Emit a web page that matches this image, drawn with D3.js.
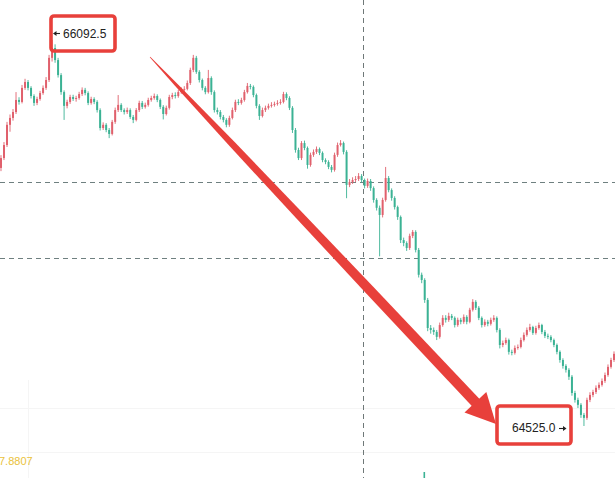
<!DOCTYPE html>
<html>
<head>
<meta charset="utf-8">
<style>
  html, body { margin: 0; padding: 0; background: #fff; }
  svg { display: block; }
  .lbl { font-family: "Liberation Sans", Arial, sans-serif; font-size: 12px; fill: #222; }
</style>
</head>
<body>
<script src="https://cdnjs.cloudflare.com/ajax/libs/d3/7.8.5/d3.min.js"></script>
<script>
var width = 615,
    height = 478;

// candle closes (one candle every ~3px)
var closes = [
  65613, 65666, 65748, 65776, 65800, 65849, 65841, 65898, 65922, 65898,
  65865, 65837, 65853, 65877, 65898, 65930, 66020, 66060, 66011, 65950,
  65881, 65825, 65841, 65861, 65853, 65857, 65873, 65890, 65877, 65837,
  65853, 65841, 65808, 65735, 65748, 65727, 65711, 65760, 65808, 65829,
  65808, 65800, 65808, 65780, 65768, 65808, 65837, 65821, 65829, 65849,
  65857, 65865, 65849, 65821, 65792, 65817, 65861, 65869, 65865, 65881,
  65890, 65894, 65918, 65971, 66020, 65963, 65930, 65898, 65881, 65938,
  65881, 65808, 65800, 65780, 65768, 65748, 65776, 65808, 65841, 65837,
  65849, 65881, 65906, 65902, 65869, 65825, 65784, 65808, 65817, 65825,
  65829, 65833, 65837, 65841, 65873, 65857, 65817, 65727, 65646, 65613,
  65674, 65654, 65585, 65626, 65638, 65650, 65634, 65605, 65597, 65577,
  65565, 65626, 65666, 65674, 65638, 65504, 65516, 65524, 65528, 65540,
  65524, 65500, 65520, 65491, 65443, 65411, 65382, 65443, 65532, 65483,
  65451, 65414, 65374, 65280, 65268, 65248, 65297, 65313, 65240, 65139,
  65118, 65037, 64923, 64915, 64907, 64887, 64935, 64964, 64956, 64972,
  64964, 64935, 64956, 64948, 64968, 64948, 64997, 65029, 65005, 64964,
  64935, 64948, 64940, 64956, 64964, 64915, 64854, 64862, 64874, 64826,
  64822, 64842, 64846, 64874, 64895, 64915, 64927, 64903, 64923, 64935,
  64907, 64891, 64887, 64874, 64854, 64826, 64793, 64769, 64753, 64725,
  64659, 64631, 64611, 64570, 64558, 64631, 64651, 64663, 64680, 64692,
  64708, 64732, 64765, 64793, 64818
];

var highs = [
  65625, 65678, 65760, 65790, 65812, 65881, 65860, 65910, 65935, 65930,
  65905, 65872, 65862, 65886, 65908, 65942, 66032, 66092.5, 66075, 66020,
  65958, 65888, 65850, 65870, 65870, 65866, 65882, 65900, 65898, 65884,
  65862, 65860, 65848, 65815, 65758, 65755, 65735, 65768, 65818, 65869,
  65836, 65815, 65818, 65815, 65788, 65816, 65846, 65845, 65838, 65858,
  65866, 65875, 65872, 65855, 65828, 65826, 65870, 65878, 65880, 65890,
  65900, 65905, 65928, 65980, 66032, 66028, 65970, 65936, 65905, 65971,
  65945, 65888, 65818, 65808, 65788, 65775, 65785, 65818, 65850, 65852,
  65858, 65890, 65918, 65914, 65908, 65875, 65832, 65818, 65826, 65834,
  65840, 65842, 65848, 65852, 65882, 65880, 65864, 65824, 65735, 65655,
  65682, 65684, 65660, 65635, 65648, 65660, 65656, 65640, 65612, 65604,
  65585, 65635, 65676, 65686, 65680, 65645, 65528, 65535, 65540, 65552,
  65548, 65530, 65530, 65528, 65498, 65450, 65420, 65452, 65577, 65540,
  65490, 65458, 65420, 65380, 65290, 65275, 65306, 65321, 65320, 65248,
  65148, 65125, 65045, 64935, 64925, 64915, 64945, 64975, 64975, 64985,
  64980, 64970, 64965, 64964, 64978, 64975, 65005, 65040, 65036, 65012,
  64970, 64958, 64956, 64965, 64975, 64970, 64922, 64872, 64884, 64880,
  64835, 64852, 64856, 64884, 64905, 64925, 64940, 64932, 64932, 64945,
  64940, 64915, 64900, 64894, 64880, 64860, 64832, 64800, 64776, 64760,
  64732, 64668, 64640, 64618, 64578, 64640, 64662, 64672, 64690, 64702,
  64718, 64742, 64775, 64802, 64828
];

var lows = [
  65560, 65605, 65658, 65720, 65765, 65792, 65830, 65835, 65890, 65888,
  65855, 65825, 65828, 65846, 65870, 65890, 65922, 66005, 66000, 65940,
  65870, 65768, 65815, 65833, 65845, 65842, 65850, 65865, 65868, 65828,
  65830, 65832, 65798, 65725, 65727, 65718, 65694, 65705, 65752, 65800,
  65800, 65790, 65792, 65772, 65755, 65762, 65800, 65812, 65814, 65822,
  65842, 65850, 65840, 65812, 65770, 65786, 65810, 65852, 65855, 65858,
  65874, 65882, 65888, 65910, 65962, 65955, 65920, 65888, 65872, 65875,
  65870, 65798, 65790, 65770, 65758, 65738, 65740, 65770, 65800, 65828,
  65830, 65842, 65875, 65892, 65860, 65815, 65768, 65778, 65800, 65810,
  65818, 65822, 65826, 65830, 65835, 65848, 65808, 65715, 65635, 65605,
  65605, 65645, 65570, 65578, 65618, 65630, 65625, 65596, 65588, 65568,
  65555, 65558, 65618, 65660, 65628, 65450, 65495, 65508, 65515, 65520,
  65514, 65490, 65492, 65480, 65432, 65400, 65214, 65372, 65436, 65474,
  65440, 65404, 65362, 65268, 65255, 65236, 65240, 65288, 65230, 65128,
  65105, 65025, 64910, 64900, 64895, 64874, 64880, 64928, 64945, 64948,
  64955, 64925, 64928, 64938, 64940, 64938, 64942, 64990, 64996, 64955,
  64925, 64928, 64930, 64933, 64948, 64905, 64840, 64845, 64855, 64815,
  64812, 64815, 64835, 64840, 64868, 64888, 64908, 64895, 64896, 64916,
  64898, 64882, 64878, 64865, 64845, 64816, 64782, 64758, 64742, 64712,
  64648, 64620, 64598, 64558, 64525, 64550, 64622, 64642, 64655, 64672,
  64685, 64700, 64725, 64758, 64785
];

var firstOpen = 65573;
var opens = [firstOpen].concat(closes.slice(0, -1));

var priceHigh = 66092.5,
    priceLow = 64525.0;
var dashedPrices = [65516, 65207]; // horizontal dashed guides
var crossIndex = 121;              // vertical dashed guide
var subValue = "7.8807";

var upColor = "#e0606c",
    downColor = "#3bb294",
    red = "#e8403b";

var svg = d3.select("body").append("svg")
    .attr("width", width)
    .attr("height", height);

var x = d3.scaleBand()
    .domain(d3.range(closes.length))
    .range([0, width])
    .paddingInner(0.34);

var y = d3.scaleLinear()
    .domain([priceLow, priceHigh])
    .range([426, 40]);

// faint grid
var grid = svg.append("g").attr("stroke", "#f5f5f5").attr("stroke-width", 1);
grid.append("line").attr("x1", 0).attr("x2", width).attr("y1", 452.5).attr("y2", 452.5);
grid.append("line").attr("x1", 0).attr("x2", width).attr("y1", 408.5).attr("y2", 408.5);
grid.append("line").attr("x1", 28.5).attr("x2", 28.5).attr("y1", 380).attr("y2", height);

// dashed guides
svg.selectAll(".hguide")
    .data(dashedPrices)
    .enter()
    .append("line")
    .attr("class", "hguide")
    .attr("x1", 0)
    .attr("x2", width)
    .attr("y1", function(d) { return Math.round(y(d)) + 0.5; })
    .attr("y2", function(d) { return Math.round(y(d)) + 0.5; })
    .attr("stroke", "#6f8080")
    .attr("stroke-width", 1)
    .attr("stroke-dasharray", "5,4");

var cx = Math.floor(x(crossIndex)) + 0.5;
svg.append("line")
    .attr("x1", cx).attr("x2", cx)
    .attr("y1", 0).attr("y2", height)
    .attr("stroke", "#6f7878")
    .attr("stroke-width", 1)
    .attr("stroke-dasharray", "5,4");

// candles
var candles = svg.append("g").selectAll("g")
    .data(closes)
    .enter()
    .append("g");

candles.append("line")
    .attr("x1", function(d, i) { return x(i) + x.bandwidth() / 2; })
    .attr("x2", function(d, i) { return x(i) + x.bandwidth() / 2; })
    .attr("y1", function(d, i) { return y(highs[i]); })
    .attr("y2", function(d, i) { return y(lows[i]); })
    .attr("stroke", function(d, i) { return d >= opens[i] ? upColor : downColor; })
    .attr("stroke-width", 0.9);

candles.append("rect")
    .attr("x", function(d, i) { return x(i); })
    .attr("width", x.bandwidth())
    .attr("y", function(d, i) { return y(Math.max(d, opens[i])); })
    .attr("height", function(d, i) { return Math.max(0.8, Math.abs(y(d) - y(opens[i]))); })
    .attr("fill", function(d, i) { return d >= opens[i] ? upColor : downColor; });

// volume tick at bottom
svg.append("rect")
    .attr("x", 423.5).attr("y", 472)
    .attr("width", 1.6).attr("height", 6)
    .attr("fill", downColor);

// sub panel value
svg.append("text")
    .attr("x", -1)
    .attr("y", 465)
    .attr("font-family", "Liberation Sans, Arial, sans-serif")
    .attr("font-size", 11)
    .attr("fill", "#eac23a")
    .text(subValue);

// big red arrow from the high toward the low
var ax0 = 150, ay0 = 57, tipX = 496, tipY = 424;
var dx = tipX - ax0, dy = tipY - ay0, len = Math.sqrt(dx * dx + dy * dy);
var ux = dx / len, uy = dy / len, nx = -uy, ny = ux;
var headLen = 30, headHalf = 15;
var shaftEnd = len - headLen + 4;
var profile = [[0, 0.3], [40, 1.6], [120, 3.2], [220, 4.2], [320, 4.8], [shaftEnd, 5.2]];
var left = profile.map(function(p) {
  return [ax0 + ux * p[0] + nx * p[1], ay0 + uy * p[0] + ny * p[1]];
});
var right = profile.slice().reverse().map(function(p) {
  return [ax0 + ux * p[0] - nx * p[1], ay0 + uy * p[0] - ny * p[1]];
});
svg.append("path")
    .attr("d", d3.line()(left.concat(right)) + "Z")
    .attr("fill", red);

var bx = tipX - ux * headLen, by = tipY - uy * headLen;
svg.append("path")
    .attr("d", d3.line()([
      [tipX, tipY],
      [bx + nx * headHalf, by + ny * headHalf],
      [bx - nx * headHalf, by - ny * headHalf]
    ]) + "Z")
    .attr("fill", red);

// annotation boxes
function box(x0, y0, w, h) {
  svg.append("rect")
      .attr("x", x0).attr("y", y0)
      .attr("width", w).attr("height", h)
      .attr("rx", 3).attr("ry", 3)
      .attr("fill", "none")
      .attr("stroke", red)
      .attr("stroke-width", 3.6);
}
box(51, 16, 64, 35);
box(497, 406, 74, 38);

// small pointer arrows next to the price labels
function pointer(xFrom, xTo, yy) {
  var dir = xTo > xFrom ? 1 : -1;
  svg.append("line")
      .attr("x1", xFrom).attr("x2", xTo - dir * 1.5)
      .attr("y1", yy).attr("y2", yy)
      .attr("stroke", "#222").attr("stroke-width", 1.1);
  svg.append("path")
      .attr("d", "M" + xTo + "," + yy + "L" + (xTo - dir * 3.5) + "," + (yy - 2.6) +
                 "L" + (xTo - dir * 3.5) + "," + (yy + 2.6) + "Z")
      .attr("fill", "#222");
}
pointer(60, 53, 33.5);
pointer(559, 566.5, 428.5);

svg.append("text").attr("class", "lbl")
    .attr("x", 63).attr("y", 37.5)
    .text(d3.format(".1f")(priceHigh));

svg.append("text").attr("class", "lbl")
    .attr("x", 512).attr("y", 432)
    .text(d3.format(".1f")(priceLow));
</script>
</body>
</html>
